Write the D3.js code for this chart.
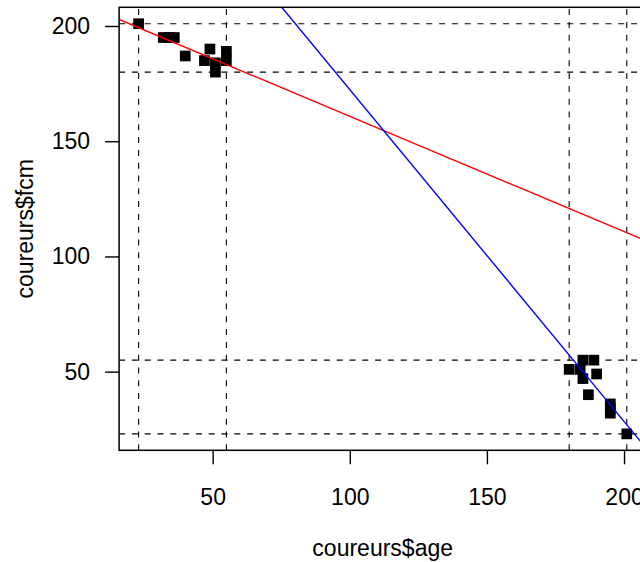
<!DOCTYPE html>
<html>
<head>
<meta charset="utf-8">
<script src="https://cdn.jsdelivr.net/npm/d3@7"></script>
<style>
  body { margin: 0; background: #fff; }
  text { font-family: "Liberation Sans", Arial, sans-serif; }
</style>
</head>
<body>
<script>
// points as plotted (x = coureurs$age, y = coureurs$fcm)
var ages = [23, 32, 34, 36, 40, 47, 49, 51, 51, 55, 55,
            201, 195, 195, 195, 187, 185, 190, 180, 184, 185, 189];
var fcms = [201, 195, 195, 195, 187, 185, 190, 180, 184, 185, 189,
            23, 32, 34, 36, 40, 47, 49, 51, 51, 55, 55];

// dashed reference lines (same values used for h and v)
var refValues = [23, 55, 180, 201];

// fitted lines: y = intercept + slope * x
var redIntercept = 210.8, redSlope = -0.5;
var blueIntercept = 316.4, blueSlope = -1.44;

var xTicks = [50, 100, 150, 200];
var yTicks = [50, 100, 150, 200];

var width = 640, height = 562;
var plotLeft = 119.1, plotRight = 646.3, plotTop = 7.3, plotBottom = 450.3;

// R style 4% padding on the data range
function padded(vals) {
  var e = d3.extent(vals), d = (e[1] - e[0]) * 0.04;
  return [e[0] - d, e[1] + d];
}

var x = d3.scaleLinear().domain(padded(ages)).range([plotLeft, plotRight]);
var y = d3.scaleLinear().domain(padded(fcms)).range([plotBottom, plotTop]);

var svg = d3.select("body").append("svg")
    .attr("width", width)
    .attr("height", height);

svg.append("defs").append("clipPath").attr("id", "plotclip")
  .append("rect")
    .attr("x", plotLeft).attr("y", plotTop)
    .attr("width", plotRight - plotLeft).attr("height", plotBottom - plotTop);

var plot = svg.append("g").attr("clip-path", "url(#plotclip)");

// points
plot.selectAll("rect.pt")
  .data(ages)
  .enter()
    .append("rect")
    .attr("class", "pt")
    .attr("x", function(d){ return x(d) - 5.35; })
    .attr("y", function(d, i){ return y(fcms[i]) - 5.35; })
    .attr("width", 10.7)
    .attr("height", 10.7)
    .attr("fill", "#000");

// dashed lines
var xd = x.domain(), yd = y.domain();
plot.selectAll("line.vref")
  .data(refValues)
  .enter()
    .append("line")
    .attr("x1", function(d){ return x(d); })
    .attr("x2", function(d){ return x(d); })
    .attr("y1", y(yd[0])).attr("y2", y(yd[1]))
    .attr("stroke", "#000").attr("stroke-width", 1.1)
    .attr("stroke-dasharray", "6,6.8");

plot.selectAll("line.href")
  .data(refValues)
  .enter()
    .append("line")
    .attr("y1", function(d){ return y(d); })
    .attr("y2", function(d){ return y(d); })
    .attr("x1", x(xd[0])).attr("x2", x(xd[1]))
    .attr("stroke", "#000").attr("stroke-width", 1.1)
    .attr("stroke-dasharray", "6,6.8");

// regression lines
function abline(a, b, col) {
  plot.append("line")
    .attr("x1", x(xd[0])).attr("y1", y(a + b * xd[0]))
    .attr("x2", x(xd[1])).attr("y2", y(a + b * xd[1]))
    .attr("stroke", col).attr("stroke-width", 1.4);
}
abline(redIntercept, redSlope, "#ff0000");
abline(blueIntercept, blueSlope, "#0000ff");

// box
svg.append("rect")
    .attr("x", plotLeft).attr("y", plotTop)
    .attr("width", plotRight - plotLeft).attr("height", plotBottom - plotTop)
    .attr("fill", "none").attr("stroke", "#000").attr("stroke-width", 1.5);

// axes
var xAxis = d3.axisBottom(x).tickValues(xTicks).tickSize(14).tickPadding(24).tickFormat(d3.format("d"));
var yAxis = d3.axisLeft(y).tickValues(yTicks).tickSize(14).tickPadding(15).tickFormat(d3.format("d"));

var gx = svg.append("g").attr("transform", "translate(0," + plotBottom + ")").call(xAxis);
var gy = svg.append("g").attr("transform", "translate(" + plotLeft + ",0)").call(yAxis);

[gx, gy].forEach(function(g) {
  g.select(".domain").remove();
  g.selectAll(".tick line").attr("stroke", "#000").attr("stroke-width", 1.4);
  g.selectAll(".tick text").attr("fill", "#000").style("font-size", "23px")
    .style("font-family", "'Liberation Sans', Arial, sans-serif");
});

// axis titles
svg.append("text")
    .attr("x", (plotLeft + plotRight) / 2)
    .attr("y", 556)
    .attr("text-anchor", "middle")
    .style("font-size", "23px")
    .text("coureurs$age");

svg.append("text")
    .attr("transform", "translate(33," + ((plotTop + plotBottom) / 2) + ") rotate(-90)")
    .attr("text-anchor", "middle")
    .style("font-size", "23px")
    .text("coureurs$fcm");
</script>
</body>
</html>
